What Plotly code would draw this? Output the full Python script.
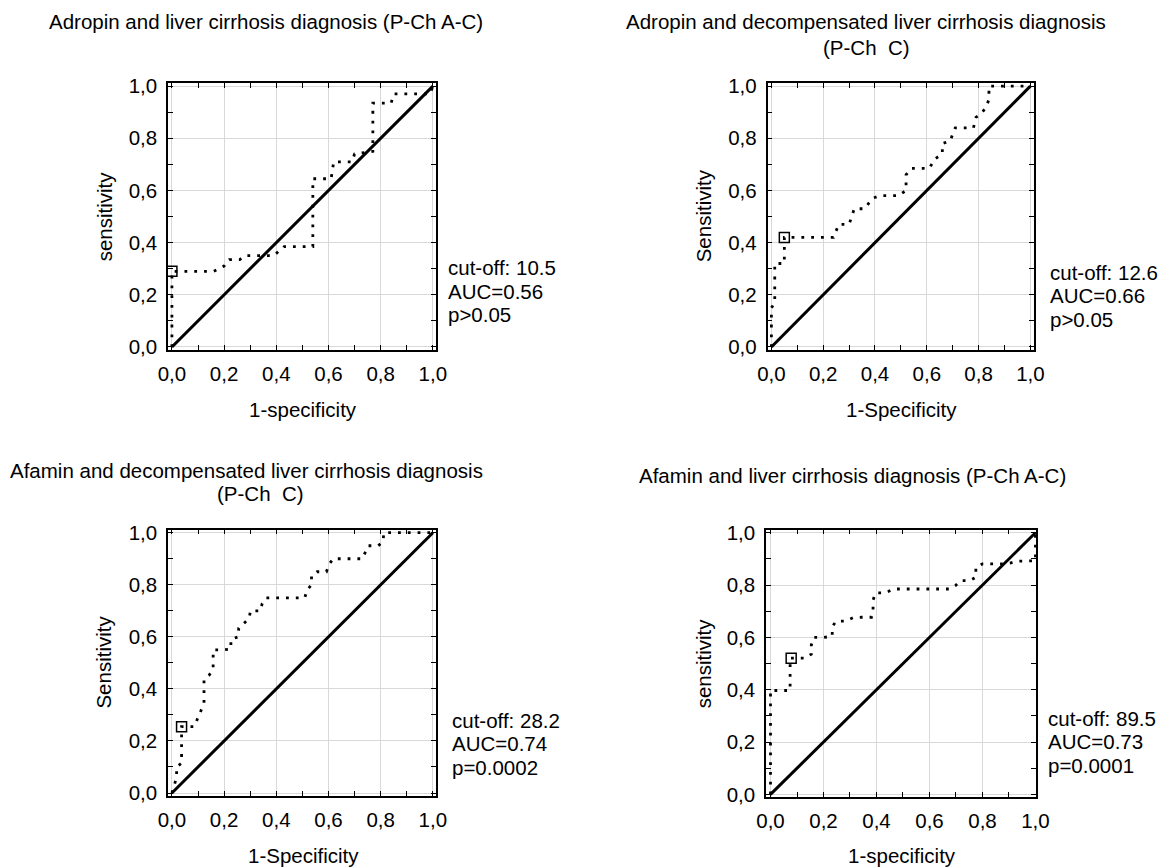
import plotly.graph_objects as go

W, H = 1168, 868
PAGE_OFFSET = 8  # default body margin of the html page

# ROC curves: (1-specificity, sensitivity)
adropin_all_fpr = [0, 0, 0.16, 0.2, 0.22, 0.26, 0.28, 0.39, 0.43, 0.54, 0.54, 0.61, 0.62, 0.69, 0.70,
                   0.77, 0.77, 0.84, 0.85, 0.99, 1.0]
adropin_all_tpr = [0, 0.29, 0.29, 0.31, 0.335, 0.335, 0.35, 0.35, 0.385, 0.385, 0.645, 0.645, 0.71, 0.71,
                   0.74, 0.75, 0.935, 0.935, 0.97, 0.97, 1.0]

adropin_dec_fpr = [0, 0, 0.013, 0.013, 0.05, 0.05, 0.24, 0.26, 0.30, 0.32, 0.36, 0.39, 0.42, 0.49, 0.52,
                   0.52, 0.54, 0.61, 0.63, 0.66, 0.66, 0.69, 0.71, 0.78, 0.79, 0.81, 0.83, 0.84, 0.84,
                   0.86, 1.0]
adropin_dec_tpr = [0, 0.15, 0.17, 0.32, 0.32, 0.42, 0.42, 0.47, 0.47, 0.53, 0.53, 0.57, 0.58, 0.58, 0.60,
                   0.66, 0.685, 0.685, 0.72, 0.74, 0.78, 0.79, 0.84, 0.84, 0.88, 0.895, 0.92, 0.95, 1.0,
                   1.0, 1.0]

afamin_dec_fpr = [0.0, 0.018, 0.018, 0.037, 0.037, 0.085, 0.107, 0.123, 0.123, 0.143, 0.158, 0.158, 0.194,
                  0.226, 0.226, 0.254, 0.256, 0.277, 0.296, 0.301, 0.339, 0.346, 0.362, 0.509, 0.518,
                  0.535, 0.535, 0.556, 0.592, 0.602, 0.618, 0.73, 0.739, 0.752, 0.79, 0.809, 0.812, 1.0]
afamin_dec_tpr = [0.0, 0.06, 0.1, 0.115, 0.255, 0.255, 0.306, 0.345, 0.436, 0.453, 0.475, 0.55, 0.55,
                  0.553, 0.59, 0.6, 0.633, 0.652, 0.671, 0.7, 0.7, 0.728, 0.75, 0.75, 0.779, 0.801,
                  0.836, 0.85, 0.85, 0.878, 0.9, 0.9, 0.923, 0.95, 0.95, 0.965, 1.0, 1.0]

afamin_all_fpr = [0, 0, 0.074, 0.074, 0.131, 0.154, 0.154, 0.163, 0.201, 0.233, 0.233, 0.248, 0.283,
                  0.311, 0.344, 0.381, 0.387, 0.387, 0.397, 0.433, 0.465, 0.674, 0.698, 0.717, 0.752,
                  0.775, 0.775, 0.8, 0.876, 0.908, 0.929, 0.996, 1.0, 1.0]
afamin_all_tpr = [0, 0.397, 0.397, 0.521, 0.521, 0.536, 0.571, 0.6, 0.6, 0.604, 0.641, 0.662, 0.662,
                  0.675, 0.677, 0.677, 0.706, 0.743, 0.77, 0.77, 0.785, 0.785, 0.798, 0.817, 0.817,
                  0.83, 0.868, 0.881, 0.881, 0.885, 0.891, 0.893, 0.893, 1.0]

# cut-off points
cut_fpr = [0.0, 0.05, 0.037, 0.078]
cut_tpr = [0.29, 0.42, 0.255, 0.52]

titles = [["Adropin and liver cirrhosis diagnosis (P-Ch A-C)"],
          ["Adropin and decompensated liver cirrhosis diagnosis", "(P-Ch  C)"],
          ["Afamin and decompensated liver cirrhosis diagnosis", "(P-Ch  C)"],
          ["Afamin and liver cirrhosis diagnosis (P-Ch A-C)"]]
x_titles = ["1-specificity", "1-Specificity", "1-Specificity", "1-specificity"]
y_titles = ["sensitivity", "Sensitivity", "Sensitivity", "sensitivity"]
stats = [["cut-off: 10.5", "AUC=0.56", "p>0.05"],
         ["cut-off: 12.6", "AUC=0.66", "p>0.05"],
         ["cut-off: 28.2", "AUC=0.74", "p=0.0002"],
         ["cut-off: 89.5", "AUC=0.73", "p=0.0001"]]
diag = [0, 1]

curves = [(adropin_all_fpr, adropin_all_tpr), (adropin_dec_fpr, adropin_dec_tpr),
          (afamin_dec_fpr, afamin_dec_tpr), (afamin_all_fpr, afamin_all_tpr)]

# panel frames in screen pixels: (left, right, top, bottom), x range
frames = [(168, 436, 83, 349.6, [-0.015, 1.012]),
          (767.5, 1033.5, 83, 349.6, [-0.015, 1.012]),
          (168, 436, 529.6, 795.6, [-0.015, 1.012]),
          (766, 1036, 529.6, 797, [-0.017, 1.002])]
title_pos = [[(47, 22, "left")], [(866, 22, "center"), (866, 47, "center")],
             [(246, 470, "center"), (260, 494, "center")], [(637, 475, "left")]]
stats_pos = [(446, 268), (1048, 272), (450, 720), (1046, 718)]
ytitle_x = [104, 703, 104, 703]
xtitle_y = [409, 409, 855, 855]

FONT = "Liberation Sans, Arial, sans-serif"
FS = 20.5


def px(x):
    return (x - PAGE_OFFSET) / W


def py(y):
    return 1 - (y - PAGE_OFFSET) / H


fig = go.Figure()
annotations = []

for i in range(4):
    xa = "x" if i == 0 else "x%d" % (i + 1)
    ya = "y" if i == 0 else "y%d" % (i + 1)
    fx, fy = curves[i]
    fig.add_trace(go.Scatter(x=diag, y=diag, mode="lines", xaxis=xa, yaxis=ya,
                             line=dict(color="black", width=3), hoverinfo="skip"))
    fig.add_trace(go.Scatter(x=fx, y=fy, mode="lines", xaxis=xa, yaxis=ya,
                             line=dict(color="black", width=2.8, dash="2.8px,7px")))
    fig.add_trace(go.Scatter(x=[cut_fpr[i]], y=[cut_tpr[i]], mode="markers", xaxis=xa, yaxis=ya,
                             marker=dict(symbol="square-open", size=10, color="black",
                                         line=dict(width=1.5, color="black"))))

    l, r, t, b, xr = frames[i]
    axis_common = dict(showline=True, linecolor="black", linewidth=1.5, mirror="ticks",
                       ticks="inside", ticklen=5, tickcolor="black", tickwidth=1,
                       showgrid=True, gridcolor="#d9d9d9", gridwidth=1, zeroline=False,
                       tickmode="linear", tick0=0, dtick=0.2, tickformat=".1f",
                       tickfont=dict(size=FS, color="black", family=FONT),
                       minor=dict(dtick=0.1, tick0=0, ticks="inside", ticklen=5,
                                  tickcolor="black", showgrid=False),
                       ticklabelstandoff=5, automargin=False)
    key = "" if i == 0 else str(i + 1)
    fig.update_layout(**{
        "xaxis" + key: dict(axis_common, domain=[px(l), px(r)], range=xr, anchor=ya),
        "yaxis" + key: dict(axis_common, domain=[py(b), py(t)], range=[-0.01, 1.012], anchor=xa),
    })

    for txt, (tx, ty, anc) in zip(titles[i], title_pos[i]):
        annotations.append(dict(text=txt, x=px(tx), y=py(ty), xref="paper", yref="paper",
                                xanchor=anc, yanchor="middle", showarrow=False,
                                font=dict(size=FS, color="black", family=FONT)))
    annotations.append(dict(text=x_titles[i], x=px((l + r) / 2 + 1), y=py(xtitle_y[i]),
                            xref="paper", yref="paper", xanchor="center", yanchor="middle",
                            showarrow=False, font=dict(size=FS, color="black", family=FONT)))
    annotations.append(dict(text=y_titles[i], x=px(ytitle_x[i]), y=py((t + b) / 2),
                            xref="paper", yref="paper", xanchor="center", yanchor="middle",
                            textangle=-90, showarrow=False,
                            font=dict(size=FS, color="black", family=FONT)))
    sx, sy = stats_pos[i]
    for k, line in enumerate(stats[i]):
        annotations.append(dict(text=line, x=px(sx), y=py(sy + 23.5 * k), xref="paper", yref="paper",
                                xanchor="left", yanchor="middle", showarrow=False,
                                font=dict(size=FS, color="black", family=FONT)))

fig.update_layout(width=W, height=H, margin=dict(l=0, r=0, t=0, b=0),
                  plot_bgcolor="white", paper_bgcolor="white", showlegend=False,
                  separators=", ", font=dict(family=FONT, color="black"),
                  annotations=annotations)

fig.write_html("out.html")
